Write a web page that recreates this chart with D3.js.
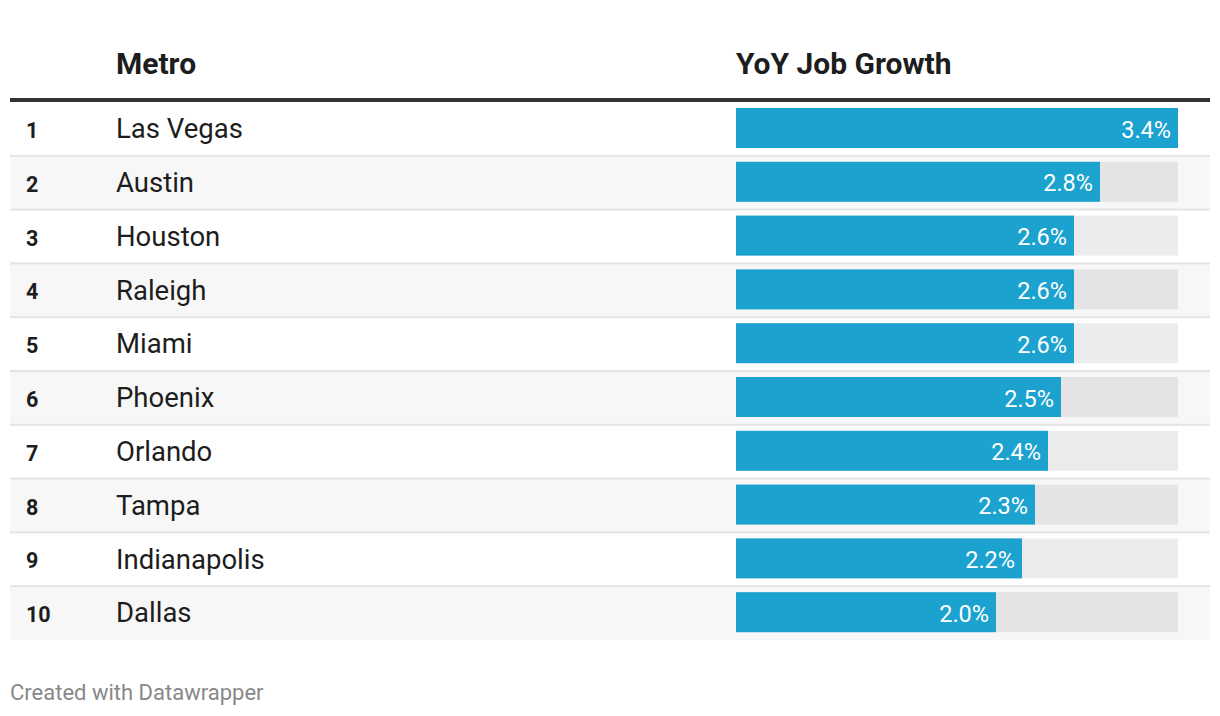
<!DOCTYPE html>
<html>
<head>
<meta charset="utf-8">
<script src="https://cdn.jsdelivr.net/npm/d3@7"></script>
<style>
  body { margin: 0; background: #fff; font-family: Roboto, "Noto Sans", sans-serif; }
</style>
</head>
<body>
<svg></svg>
<script>
// Data
const ranks = [1, 2, 3, 4, 5, 6, 7, 8, 9, 10];
const metros = ["Las Vegas", "Austin", "Houston", "Raleigh", "Miami", "Phoenix", "Orlando", "Tampa", "Indianapolis", "Dallas"];
const growth = [3.4, 2.8, 2.6, 2.6, 2.6, 2.5, 2.4, 2.3, 2.2, 2.0];

const w = 1220;
const h = 716;
const tableLeft = 10, tableRight = 1210;
const tableTop = 102, rowH = 53.8;

const svg = d3.select("svg")
  .attr("width", w)
  .attr("height", h);

const rows = metros.map((m, i) => ({ rank: ranks[i], metro: m, value: growth[i] }));

const y = d3.scaleBand()
  .domain(d3.range(rows.length))
  .range([tableTop, tableTop + rowH * rows.length]);

const x = d3.scaleLinear()
  .domain([0, d3.max(growth)])
  .range([736, 1178]);

// Header
svg.append("text")
  .attr("x", 116).attr("y", 74)
  .attr("font-size", 30).attr("font-weight", 700).attr("fill", "#1d1d1d")
  .text("Metro");
svg.append("text")
  .attr("x", 736).attr("y", 74)
  .attr("font-size", 30).attr("font-weight", 700).attr("fill", "#1d1d1d")
  .text("YoY Job Growth");

const row = svg.selectAll("g.row")
  .data(rows)
  .enter()
  .append("g")
  .attr("class", "row")
  .attr("transform", (d, i) => `translate(0,${y(i)})`);

row.append("rect")
  .attr("x", tableLeft).attr("width", tableRight - tableLeft)
  .attr("height", y.bandwidth())
  .attr("fill", (d, i) => i % 2 ? "#f7f7f7" : "#fff");

row.filter((d, i) => i > 0).append("rect")
  .attr("x", tableLeft).attr("width", tableRight - tableLeft)
  .attr("y", -1).attr("height", 2)
  .attr("fill", "#e4e4e4");

row.append("text")
  .attr("x", 26).attr("y", 36)
  .attr("font-size", 21.5).attr("font-weight", 700).attr("fill", "#1d1d1d")
  .text(d => d.rank);

row.append("text")
  .attr("x", 116).attr("y", 36.3)
  .attr("font-size", 27.5).attr("fill", "#1d1d1d")
  .text(d => d.metro);

row.append("rect")
  .attr("x", x(0)).attr("width", x.range()[1] - x(0))
  .attr("y", 6).attr("height", 40)
  .attr("fill", "rgba(0,0,0,0.075)");

row.append("rect")
  .attr("x", x(0)).attr("width", d => x(d.value) - x(0))
  .attr("y", 6).attr("height", 40)
  .attr("fill", "#1ba2cf");

row.append("text")
  .attr("x", d => x(d.value) - 7).attr("y", 35.5)
  .attr("text-anchor", "end")
  .attr("font-size", 23.5).attr("fill", "#fff")
  .text(d => d3.format(".1f")(d.value) + "%");

// Header rule
svg.append("rect")
  .attr("x", tableLeft).attr("width", tableRight - tableLeft)
  .attr("y", 98).attr("height", 4)
  .attr("fill", "#333");

// Footer
svg.append("text")
  .attr("x", 10).attr("y", 700)
  .attr("font-size", 22).attr("fill", "#888")
  .text("Created with Datawrapper");
</script>
</body>
</html>
